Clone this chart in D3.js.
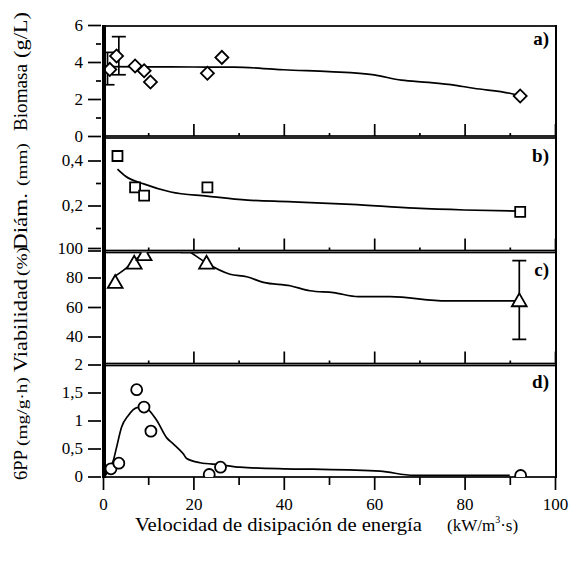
<!DOCTYPE html>
<html>
<head>
<meta charset="utf-8">
<script src="https://cdn.jsdelivr.net/npm/d3@7"></script>
<style>
body { margin:0; background:#fff; }
</style>
</head>
<body>
<script>

// valori letti dal grafico
// a) biomasa
const velBiomasa = [1.5, 3.0, 7.1, 9.1, 10.5, 23.1, 26.3, 92.3];
const biomasa = [3.6, 4.32, 3.78, 3.53, 2.92, 3.39, 4.25, 2.16];
const errVelBiomasa = [1.0, 3.5];
const errBiomasaMin = [2.77, 3.31];
const errBiomasaMax = [4.52, 5.37];
const curvaVelA = [1, 10, 20, 29, 35, 40, 50, 60, 66, 72, 78, 82, 90, 92.3];
const curvaBiomasa = [3.75, 3.74, 3.73, 3.72, 3.66, 3.58, 3.48, 3.3, 3.02, 2.9, 2.74, 2.58, 2.31, 2.18];

// b) diametro
const velDiam = [3.2, 7.1, 9.1, 23.1, 92.3];
const diametro = [0.42, 0.281, 0.244, 0.281, 0.172];
const curvaVelB = [3.2, 5, 9, 15, 23, 32, 41, 55, 69, 80, 92];
const curvaDiam = [0.362, 0.33, 0.296, 0.26, 0.242, 0.224, 0.217, 0.205, 0.188, 0.18, 0.175];

// c) viabilidad
const velViab = [2.7, 6.9, 9.1, 19.2, 22.9, 92.1];
const viabilidad = [76.5, 89.6, 95.3, 100.7, 89.6, 64.1];
const errVelViab = [92.1];
const errViabMin = [38.1];
const errViabMax = [91.4];
const curvaVelC = [2.7, 5, 6.9, 9.1, 11, 14, 17, 19.2, 22.9, 28.1, 31.8, 35.5, 41.4, 45.8, 51, 56.5, 63.5, 76, 92.1];
const curvaViab = [81, 86, 91.5, 96.4, 100, 103, 102, 97.5, 89.8, 82.2, 80.5, 76.7, 74.4, 71, 69.7, 67, 67, 64.1, 64.1];

// d) 6PP
const vel6PP = [1.77, 3.5, 7.45, 9.07, 10.6, 23.5, 26, 92.4];
const prod6PP = [0.137, 0.238, 1.55, 1.24, 0.81, 0.036, 0.166, 0.018];
const curvaVelD = [0.5, 2.3, 3, 4.1, 5.6, 7.5, 9.1, 11.9, 14.1, 15.6, 17.8, 18.5, 21.5, 26, 30.3, 40, 46.5, 61.3, 68.7, 90];
const curva6PP = [0.02, 0.29, 0.52, 0.88, 1.09, 1.23, 1.24, 1.0, 0.69, 0.58, 0.4, 0.32, 0.245, 0.21, 0.166, 0.137, 0.13, 0.095, 0.02, 0.02];

// tick
const xTicks = [0, 20, 40, 60, 80, 100];
const xMinor = [10, 30, 50, 70, 90];
const ticksA = [0, 2, 4, 6];
const minorA = [1, 3, 5];
const ticksB = [0, 0.2, 0.4];
const minorB = [0.1, 0.3];
const ticksC = [40, 60, 80, 100];
const ticksD = [0, 0.5, 1, 1.5, 2];

const FONT = "'Liberation Serif'";

const svg = d3.select('body')
    .append('svg')
    .attr('width', 574)
    .attr('height', 561);

const x = d3.scaleLinear().domain([0, 100]).range([103, 555]);

const yA = d3.scaleLinear().domain([0, 6]).range([136, 25]);
const yB = d3.scaleLinear().domain([0, 0.5]).range([250.5, 138]);
const yC = d3.scaleLinear().domain([20, 100]).range([366, 248]);
const yD = d3.scaleLinear().domain([0, 2]).range([476.5, 364.5]);

// etichette con la virgola; lo 0 di b) sta sotto il 100 di c)
const virgola = v => String(v).replace('.', ',');
const virgolaB = v => v === 0 ? '' : virgola(v);

const pannelli = [
  {id: 'a', y: yA, top: 26, bottom: 136, lab: 45, major: ticksA, minor: minorA, fmt: virgola,
   px: velBiomasa, py: biomasa, cx: curvaVelA, cy: curvaBiomasa, simbolo: 'diamond',
   ex: errVelBiomasa, e0: errBiomasaMin, e1: errBiomasaMax},
  {id: 'b', y: yB, top: 138, bottom: 250.5, lab: 162, major: ticksB, minor: minorB, fmt: virgolaB,
   px: velDiam, py: diametro, cx: curvaVelB, cy: curvaDiam, simbolo: 'square',
   ex: [], e0: [], e1: []},
  {id: 'c', y: yC, top: 252.5, bottom: 363.5, lab: 276, major: ticksC, minor: [], fmt: virgola,
   px: velViab, py: viabilidad, cx: curvaVelC, cy: curvaViab, simbolo: 'triangle',
   ex: errVelViab, e0: errViabMin, e1: errViabMax},
  {id: 'd', y: yD, top: 365.5, bottom: 477, lab: 388, major: ticksD, minor: [], fmt: virgola,
   px: vel6PP, py: prod6PP, cx: curvaVelD, cy: curva6PP, simbolo: 'circle',
   ex: [], e0: [], e1: []}
];

pannelli.forEach((p, k) => {

  const g = svg.append('g').attr('class', 'pannello-' + p.id);

  // riquadro
  g.append('rect')
      .attr('x', 103)
      .attr('y', p.top)
      .attr('width', 453)
      .attr('height', p.bottom - p.top)
      .attr('fill', 'none')
      .attr('stroke', 'black')
      .attr('stroke-width', 1.7);

  // tick interni in basso (tranne ultimo pannello)
  if (k < 3) {
    g.append('g')
        .attr('transform', 'translate(0,' + p.bottom + ')')
        .call(d3.axisBottom(x).tickValues(xTicks).tickSize(-12).tickFormat(''));
    g.append('g')
        .attr('transform', 'translate(0,' + p.bottom + ')')
        .call(d3.axisBottom(x).tickValues(xMinor).tickSize(-3).tickFormat(''));
  }

  // asse y
  g.append('g')
      .attr('class', 'asseY')
      .attr('transform', 'translate(101,0)')
      .call(d3.axisLeft(p.y).tickValues(p.major).tickSize(13).tickPadding(5).tickFormat(p.fmt));
  g.append('g')
      .attr('transform', 'translate(101,0)')
      .call(d3.axisLeft(p.y).tickValues(p.minor).tickSize(5).tickFormat(''));

  // clip
  svg.append('clipPath')
      .attr('id', 'clip-' + p.id)
      .append('rect')
      .attr('x', 104)
      .attr('y', p.top)
      .attr('width', 452)
      .attr('height', p.bottom - p.top);

  const dati = g.append('g').attr('clip-path', 'url(#clip-' + p.id + ')');

  // curva
  const linea = d3.line()
      .x(d => x(d[0]))
      .y(d => p.y(d[1]))
      .curve(d3.curveMonotoneX);

  dati.append('path')
      .datum(d3.zip(p.cx, p.cy))
      .attr('d', linea)
      .attr('fill', 'none')
      .attr('stroke', 'black')
      .attr('stroke-width', 1.7);

  // barre di errore
  const err = d3.zip(p.ex, p.e0, p.e1);
  const barre = dati.selectAll('.err').data(err).enter().append('g').attr('class', 'err')
      .attr('stroke', 'black').attr('stroke-width', 1.7);
  barre.append('line')
      .attr('x1', d => x(d[0])).attr('x2', d => x(d[0]))
      .attr('y1', d => p.y(d[1])).attr('y2', d => p.y(d[2]));
  barre.append('line')
      .attr('x1', d => x(d[0]) - 7).attr('x2', d => x(d[0]) + 7)
      .attr('y1', d => p.y(d[1])).attr('y2', d => p.y(d[1]));
  barre.append('line')
      .attr('x1', d => x(d[0]) - 7).attr('x2', d => x(d[0]) + 7)
      .attr('y1', d => p.y(d[2])).attr('y2', d => p.y(d[2]));

  // punti
  const punti = dati.selectAll('.punto')
      .data(d3.zip(p.px, p.py))
      .enter().append('g')
      .attr('class', 'punto')
      .attr('transform', d => 'translate(' + x(d[0]) + ',' + p.y(d[1]) + ')');

  if (p.simbolo === 'circle') {
    punti.append('circle').attr('r', 5.5);
  } else if (p.simbolo === 'diamond') {
    punti.append('path').attr('d', d3.symbol(d3.symbolSquare, 85)()).attr('transform', 'rotate(45)');
  } else if (p.simbolo === 'square') {
    punti.append('path').attr('d', d3.symbol(d3.symbolSquare, 100)());
  } else {
    punti.append('path').attr('d', d3.symbol(d3.symbolTriangle, 95)()).attr('transform', 'translate(0,1)');
  }
  punti.selectAll('*')
      .attr('fill', 'white')
      .attr('stroke', 'black')
      .attr('stroke-width', 1.8);

  // etichetta pannello
  g.append('text')
      .attr('x', 549)
      .attr('y', p.lab)
      .attr('text-anchor', 'end')
      .attr('font-weight', 'bold')
      .attr('font-size', 19)
      .text(p.id + ')');
});

// asse sinistro spesso e bordo destro
svg.append('line')
    .attr('x1', 104).attr('x2', 104)
    .attr('y1', 25).attr('y2', 478)
    .attr('stroke', 'black').attr('stroke-width', 4);
svg.append('line')
    .attr('x1', 556).attr('x2', 556)
    .attr('y1', 25).attr('y2', 478)
    .attr('stroke', 'black').attr('stroke-width', 2);

// asse x in basso
const asseX = svg.append('g')
    .attr('class', 'asseX')
    .attr('transform', 'translate(0,477)')
    .call(d3.axisBottom(x).tickValues(xTicks).tickSize(13).tickPadding(8));
svg.append('g')
    .attr('transform', 'translate(0,477)')
    .call(d3.axisBottom(x).tickValues(xMinor).tickSize(8).tickFormat(''));

// stile assi
svg.selectAll('.domain').remove();
svg.selectAll('.tick line').attr('stroke', 'black').attr('stroke-width', 1.7);
svg.selectAll('.asseY .tick text, .asseX .tick text').attr('font-size', 17);

// titolo asse x
svg.append('text')
    .attr('x', 135)
    .attr('y', 531)
    .attr('font-size', 19)
    .attr('textLength', 287)
    .attr('lengthAdjust', 'spacingAndGlyphs')
    .text('Velocidad de disipación de energía');

const unita = svg.append('text')
    .attr('x', 447)
    .attr('y', 531)
    .attr('font-size', 17);
unita.append('tspan').text('(kW/m');
unita.append('tspan').attr('font-size', 10).attr('dy', -8).text('3');
unita.append('tspan').attr('dy', 8).text('·s)');

// titoli assi y (ruotati)
const titoliY = [
  {t: 'Biomasa', y0: 131, y1: 64, fs: 18},
  {t: '(g/L)', y0: 58, y1: 12, fs: 18},
  {t: 'Diám.', y0: 250, y1: 193, fs: 18},
  {t: '(mm)', y0: 186, y1: 143, fs: 15},
  {t: 'Viabilidad', y0: 372, y1: 279, fs: 18},
  {t: '(%)', y0: 276, y1: 247, fs: 14},
  {t: '6PP', y0: 480, y1: 450, fs: 18},
  {t: '(mg/g·h)', y0: 446, y1: 377, fs: 14}
];

titoliY.forEach(d => {
  svg.append('text')
      .attr('transform', 'translate(27,' + d.y0 + ') rotate(-90)')
      .attr('font-size', d.fs)
      .attr('textLength', d.y0 - d.y1)
      .attr('lengthAdjust', 'spacingAndGlyphs')
      .text(d.t);
});

// font serif per tutti i testi
svg.selectAll('text')
    .style('font-family', FONT)
    .attr('fill', 'black');

</script>
</body>
</html>
